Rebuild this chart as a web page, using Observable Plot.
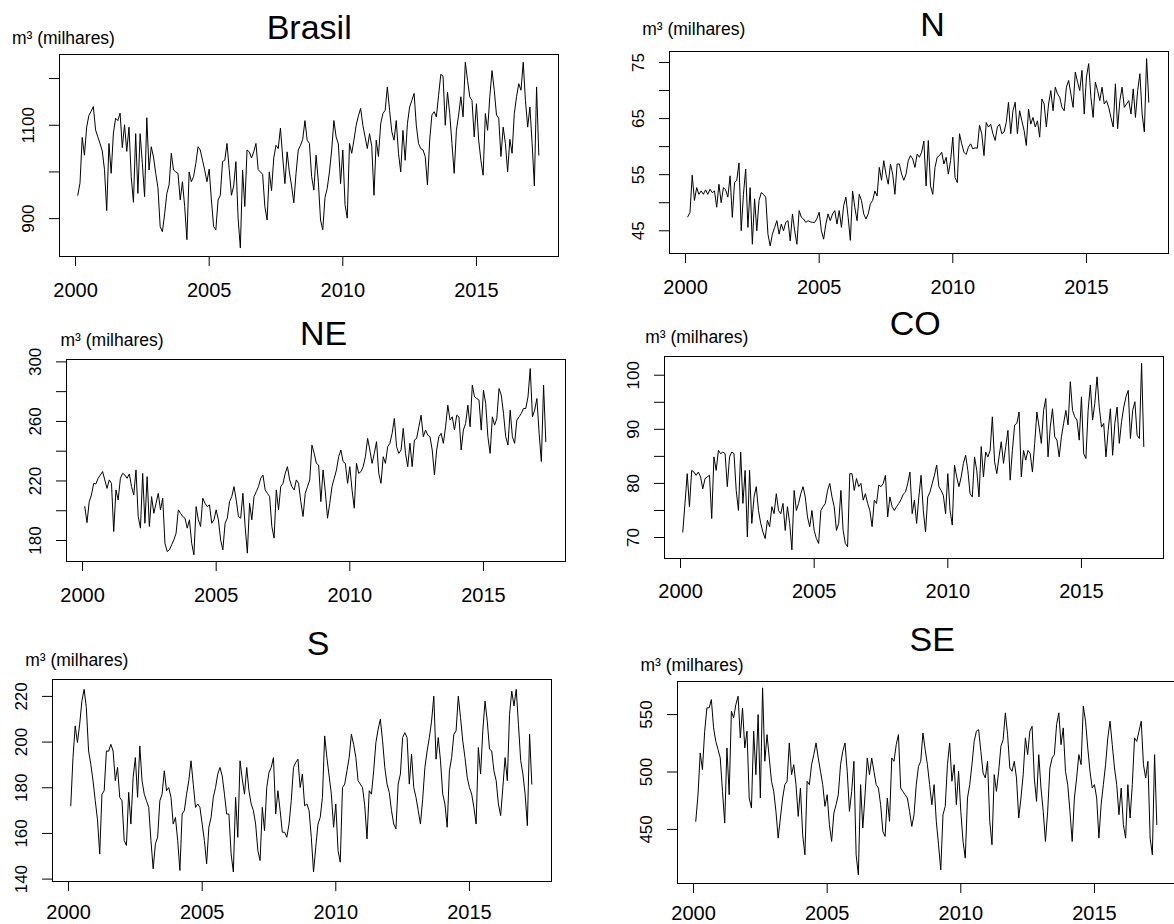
<!DOCTYPE html>
<html><head><meta charset="utf-8">
<script src="https://cdn.jsdelivr.net/npm/d3@7"></script>
<script src="https://cdn.jsdelivr.net/npm/@observablehq/plot@0.6"></script>
<style>
html,body{margin:0;padding:0;background:#fff;overflow:hidden}
#page{position:relative;width:1174px;height:924px;overflow:hidden;background:#fff}
#page > div{position:absolute;width:571px;height:306px}
#page svg{overflow:visible;max-width:none !important;display:block}
</style></head><body><div id="page"></div>
<script>
// Monthly series, Feb 2000 .. May 2017 (m³, milhares)
const xTicks = [2000, 2005, 2010, 2015];
const yLabelText = "m³ (milhares)";

const brasil = [
  950, 976, 1074, 1036, 1096, 1121, 1130, 1140, 1090, 1075, 1061,
  1045, 1005, 917, 1061, 997, 1083, 1115, 1110, 1126, 1052, 1101, 1044,
  1096, 990, 935, 1082, 954, 1082, 1018, 947, 1116, 1004, 1054, 1032,
  997, 966, 883, 872, 910, 954, 972, 1040, 1004, 1000, 997, 940,
  979, 926, 855, 1000, 979, 990, 1018, 1054, 1047, 1025, 1004, 979,
  1006, 940, 883, 876, 940, 950, 1022, 1025, 1061, 1005, 950, 970,
  1022, 900, 837, 1004, 926, 1047, 1043, 1030, 1043, 1061, 1005, 1000,
  995, 926, 897, 1000, 960, 1030, 1057, 1050, 1094, 1032, 975, 1043,
  1000, 970, 934, 997, 1047, 1057, 1070, 1110, 1068, 1061, 990, 961,
  1036, 980, 897, 876, 945, 965, 1000, 1047, 1110, 1075, 1060, 975,
  1047, 930, 901, 1061, 1040, 1068, 1100, 1120, 1136, 1100, 1075, 1050,
  1082, 1055, 950, 1068, 1033, 1103, 1125, 1132, 1182, 1132, 1086, 1068,
  1110, 1040, 1000, 1089, 1025, 1103, 1139, 1153, 1168, 1100, 1061, 1050,
  1047, 1033, 972, 1068, 1122, 1129, 1118, 1164, 1209, 1205, 1100, 1171,
  1125, 1061, 997, 1089, 1122, 1161, 1118, 1235, 1196, 1161, 1153, 1075,
  1146, 1068, 1025, 993, 1125, 1089, 1161, 1217, 1175, 1122, 1115, 1033,
  1096, 1061, 1000, 1070, 1040, 1125, 1161, 1189, 1175, 1235, 1153, 1096,
  1139, 1061, 970, 1182, 1036
];

const norte = [
  47.5, 48.3, 54.9, 50.4, 52.7, 51.5, 52.1, 51.5, 52.3, 51.5, 52.4,
  51.8, 52.1, 49.2, 53.3, 50.0, 52.7, 52.3, 51.0, 54.8, 47.4, 53.6, 54.0,
  57.1, 45.0, 51.5, 56.0, 45.6, 52.7, 42.6, 50.7, 45.0, 50.4, 51.8, 51.5,
  51.0, 44.4, 42.3, 44.4, 45.6, 46.8, 44.4, 46.2, 45.0, 46.5, 46.8, 43.2,
  48.0, 45.0, 42.6, 48.6, 47.4, 47.1, 46.5, 46.8, 46.6, 46.5, 46.5, 47.2,
  48.3, 45.0, 43.5, 46.2, 48.0, 46.8, 48.0, 48.6, 46.2, 48.6, 45.6, 49.5,
  51.0, 47.4, 43.3, 52.1, 49.2, 46.8, 51.5, 50.4, 48.0, 47.1, 48.0, 49.8,
  50.4, 52.1, 51.2, 56.3, 54.0, 57.5, 55.1, 53.3, 56.9, 55.1, 51.5, 56.9,
  56.9, 55.1, 54.0, 55.1, 57.5, 58.4, 57.8, 56.3, 58.7, 58.1, 59.0, 61.0,
  53.0, 61.1, 53.0, 51.5, 56.3, 58.1, 58.4, 59.0, 56.9, 58.1, 55.1, 57.5,
  61.7, 54.5, 53.6, 62.3, 60.5, 59.0, 58.6, 59.9, 60.5, 59.6, 59.8, 59.7,
  63.8, 62.3, 58.4, 64.3, 63.5, 64.0, 62.3, 61.1, 63.5, 64.0, 62.3, 62.6,
  64.3, 67.9, 62.3, 66.4, 67.9, 62.3, 66.4, 64.6, 62.9, 60.2, 66.7, 64.0,
  65.2, 63.5, 64.6, 61.7, 68.5, 67.6, 63.5, 67.6, 70.0, 66.4, 70.6, 69.4,
  68.8, 67.0, 66.4, 70.6, 71.8, 69.4, 67.0, 73.3, 71.5, 70.0, 73.6, 65.8,
  72.4, 74.8, 68.8, 65.2, 71.5, 70.0, 68.2, 70.6, 67.6, 68.2, 67.0, 65.2,
  63.5, 71.2, 63.2, 68.2, 70.6, 67.0, 67.6, 68.2, 65.8, 70.3, 65.2, 70.0,
  73.0, 65.8, 62.6, 75.7, 67.9
];

const nordeste = [
  202.8, 192, 206, 210.6, 218.4, 218, 221.8, 224, 226.3, 220.7, 215,
  220.7, 218.4, 186, 214, 207.3, 221.8, 225.1, 224, 221.8, 224.7, 216.2, 210.6,
  227.4, 196.1, 188.3, 225.1, 191.6, 222.9, 189.4, 209.5, 198.3, 205, 211.7, 200.6,
  208.4, 178.2, 172.6, 173.7, 177.1, 180.4, 184.9, 200.6, 198.3, 196.1, 195, 188.3,
  193.9, 178.2, 170.4, 202.8, 193.9, 189.4, 208.4, 205, 202.8, 203.9, 191.6, 193.9,
  200.6, 193.9, 180.4, 173.7, 191.6, 195, 206.1, 209.5, 216.2, 207.3, 196.1, 195,
  211.7, 189.4, 171.5, 205, 193.9, 209.5, 212.8, 216.2, 221.8, 224, 214, 211.7,
  209.5, 189.4, 181.6, 214, 200.6, 216.2, 218.4, 225.1, 229.6, 220.7, 216.2, 214,
  220.7, 218.4, 206.1, 196.1, 211.7, 216.2, 220.7, 244.1, 238.5, 231.8, 230.7, 206.1,
  227.4, 212.8, 195, 205, 216.2, 221.8, 227.4, 236.3, 240.8, 233, 231.8, 218.4,
  229.6, 214, 201.7, 231.8, 225.1, 226.3, 229.6, 236.3, 248.6, 240.8, 231.8, 238.5,
  246.4, 225.1, 218.4, 236.3, 231.8, 243, 245.3, 252, 262, 243, 238.5, 240.8,
  255.3, 238.5, 229.6, 245.3, 229.6, 247.5, 248.6, 256.4, 264.2, 249.7, 254.2, 250.8,
  249.7, 240.8, 224, 240.8, 249.7, 252, 245.3, 256.4, 270.9, 260.9, 263.1, 254.2,
  264.2, 263.1, 240.8, 254.2, 258.7, 270.9, 256.4, 284.4, 276.5, 275.4, 274.3, 254.2,
  281, 272.1, 249.7, 238.5, 263.1, 257.5, 262, 282.1, 277.7, 265.4, 249.7, 244.1,
  267.6, 249.7, 245.3, 260.9, 263.1, 265.4, 268.7, 268.7, 276.5, 295.5, 263.1, 267.6,
  275.4, 252, 233, 284.4, 246.4
];

const centroOeste = [
  71.0, 76.3, 81.8, 75.7, 82.4, 82.1, 81.5, 82.1, 81.2, 79.0, 80.9,
  81.2, 81.5, 73.5, 84.9, 82.4, 86.1, 85.5, 85.8, 85.5, 79.4, 84.9, 85.8,
  85.5, 78.7, 75.0, 85.8, 76.3, 82.4, 70.1, 82.4, 72.6, 77.5, 79.4, 75.0,
  72.6, 71.0, 69.8, 73.2, 72.0, 75.7, 74.4, 78.1, 75.0, 74.4, 76.3, 71.3,
  75.7, 72.6, 67.7, 78.7, 75.0, 76.3, 78.1, 79.4, 77.5, 73.8, 72.0, 75.0,
  71.3, 69.8, 68.9, 75.0, 75.7, 76.3, 78.7, 80.0, 77.5, 75.7, 71.3, 72.6,
  78.7, 71.3, 68.9, 68.3, 81.8, 81.8, 78.7, 80.9, 79.4, 80.0, 76.9, 78.1,
  76.3, 75.0, 72.0, 76.9, 76.3, 79.7, 79.4, 80.0, 81.5, 73.8, 77.5, 75.7,
  75.0, 75.7, 76.3, 77.0, 78.0, 78.4, 80.0, 82.1, 74.4, 76.9, 72.6, 77.5,
  81.5, 75.0, 71.0, 77.5, 78.4, 80.0, 81.5, 83.4, 79.4, 78.7, 77.8, 74.4,
  81.8, 75.0, 72.3, 83.4, 81.2, 79.4, 81.2, 83.7, 85.2, 82.4, 78.1, 77.5,
  84.9, 82.4, 77.5, 86.8, 81.2, 85.8, 84.9, 86.1, 92.3, 84.0, 81.8, 84.9,
  87.7, 83.7, 86.8, 89.8, 80.6, 86.1, 90.8, 91.1, 93.2, 81.2, 86.1, 84.3,
  86.1, 85.5, 82.1, 87.4, 93.2, 90.4, 87.4, 93.5, 95.7, 84.9, 90.4, 93.8,
  88.6, 88.0, 84.9, 88.6, 91.1, 93.5, 90.8, 98.8, 93.5, 92.3, 91.7, 88.0,
  96.0, 85.5, 84.6, 93.5, 98.2, 91.7, 94.8, 99.7, 94.1, 90.4, 91.1, 84.9,
  89.8, 93.8, 85.2, 91.1, 94.1, 87.4, 91.4, 94.1, 96.0, 97.2, 88.3, 93.5,
  95.1, 88.9, 88.3, 102.2, 86.8
];

const sul = [
  172.1, 193.2, 207.1, 199.8, 207.8, 218, 223.1, 215, 196.1, 190.3, 183,
  174.3, 166, 151, 177.2, 178.7, 196.1, 196, 199, 196.1, 183.1, 188.9, 175.8,
  174.3, 156.9, 154.7, 178, 164.1, 184.5, 193.2, 175.8, 198.3, 183.1, 177.2, 174.3,
  171.4, 156.9, 144.5, 155.4, 158.3, 174.3, 177.2, 187.4, 178.7, 180.1, 175.8, 164.1,
  167, 156.9, 143.8, 168.5, 170, 177.2, 183.1, 191.8, 181.6, 171.4, 172.9, 171.4,
  164.1, 156.9, 146.7, 162.7, 167, 175.8, 180.1, 186, 188.9, 185.2, 177.2, 168.5,
  168.5, 151, 143.1, 175.8, 158.3, 191.8, 183.8, 177.2, 188.9, 178.7, 172.9, 170,
  164.1, 152.5, 148.1, 171.4, 161.2, 180.1, 186.7, 188.9, 193.2, 168.5, 178.7, 170,
  160.5, 160.5, 158.3, 164.1, 174.3, 188.9, 191.1, 192.5, 180.1, 186, 172.1, 172.9,
  170, 158.3, 143.1, 154, 164.1, 167, 175.8, 202.7, 193.2, 185.2, 177.2, 162.7,
  172.9, 152.5, 147.4, 180.1, 181.6, 187.4, 193.2, 203.4, 199, 193.2, 183.1, 181.6,
  180.1, 172.1, 157.6, 178.7, 177.2, 187.4, 199.8, 205.6, 210, 200.5, 188.9, 181.6,
  178, 170, 164.1, 162, 181.6, 186, 202, 204.1, 202, 181.6, 194.7, 180.1,
  175.8, 170, 164.1, 175, 188.9, 196.1, 202, 209.2, 220.1, 192.5, 202, 191.8,
  177.2, 172.9, 162.7, 187.4, 193.2, 203.4, 204.9, 220.1, 210.7, 200.5, 193.2, 184.5,
  180.1, 177.2, 171.4, 164.1, 197.6, 186, 204.9, 218, 209.2, 196.9, 196.1, 187.4,
  183.1, 172.9, 167.8, 180.1, 193.2, 183.1, 212.1, 222.3, 215.8, 223.1, 207.8, 192,
  186, 177.2, 163.4, 203.4, 181.6
];

const sudeste = [
  457, 480, 516.6, 502, 535.5, 555.8, 555.8, 563.1, 538.4, 526.7, 519.5,
  512.2, 483.1, 455.5, 520.9, 480.2, 552.9, 547.1, 558.7, 566, 529.7, 555.8, 520.9,
  535.5, 477.3, 468.6, 535.5, 497.7, 550, 477.3, 573.3, 509.3, 532.6, 512.2, 491.9,
  483.1, 465.7, 442.4, 459.9, 477.3, 489, 491.9, 525.3, 497.7, 506.4, 489, 461.3,
  486, 445.3, 427.9, 491.9, 489, 506.4, 515.1, 525.3, 512.2, 500.6, 489, 470.1,
  480.2, 454.1, 439.5, 464.2, 471.5, 480.2, 506.4, 518, 525.3, 500.6, 465.7, 483.1,
  509.3, 427.9, 410.5, 489, 451.2, 480.2, 512.2, 497.7, 512.2, 500.6, 489, 486,
  471.5, 448.3, 443.9, 477.3, 457, 512.2, 509.3, 523.8, 532.6, 486, 483.1, 480.2,
  477.3, 465.7, 452.6, 462.8, 489, 504.9, 509.3, 534, 519.5, 506.4, 489, 471.5,
  489, 457, 436.6, 414.8, 462.8, 470.1, 506.4, 525.3, 491.9, 506.4, 471.5, 500.6,
  465.7, 439.5, 425, 477.3, 489, 506.4, 526.7, 535.5, 536.9, 518, 499.1, 494.8,
  509.3, 457, 436.6, 497.7, 483.1, 500.6, 522.4, 528.2, 551.5, 532.6, 503.5, 500.6,
  509.3, 494.8, 459.9, 477.3, 497.7, 529.7, 515.1, 535.5, 539.8, 494.8, 474.4, 515.1,
  486, 465.7, 439.5, 465.7, 503.5, 512.2, 515.1, 541.3, 551.5, 523.8, 538.4, 500.6,
  489, 465.7, 439.5, 477.3, 494.8, 515.1, 506.4, 557.3, 544.2, 520.9, 500.6, 486,
  489, 477.3, 442.4, 471.5, 489, 506.4, 529.7, 544.2, 523.8, 503.5, 489, 462.8,
  486, 454.1, 442.4, 489, 459.9, 489, 529.7, 526.7, 535.5, 544.2, 506.4, 494.8,
  509.3, 442.4, 427.9, 515.1, 454.1
];

const panels = [
  {title: "Brasil", values: brasil, yTicks: [900, 1000, 1100, 1200], yLabels: [900, 1100],
   yDomain: [818.9, 1251.5], L: 59.3, T: 54, titleX: 309, titleBase: 38, labX: 11.7, labBase: 43.3, xDy: 40},
  {title: "N", values: norte, yTicks: [45, 50, 55, 60, 65, 70, 75], yLabels: [45, 55, 65, 75],
   yDomain: [40.95, 76.96], L: 669, T: 51, titleX: 932, titleBase: 35, labX: 641.7, labBase: 34.5, xDy: 40},
  {title: "NE", values: nordeste, yTicks: [180, 200, 220, 240, 260, 280, 300], yLabels: [180, 220, 260, 300],
   yDomain: [165.9, 301.6], L: 66, T: 359.3, titleX: 323, titleBase: 345, labX: 60, labBase: 346, xDy: 40},
  {title: "CO", values: centroOeste, yTicks: [70, 75, 80, 85, 90, 95, 100], yLabels: [70, 80, 90, 100],
   yDomain: [66.12, 103.46], L: 664.3, T: 356.3, titleX: 915, titleBase: 335, labX: 645, labBase: 342.7, xDy: 39.5},
  {title: "S", values: sul, yTicks: [140, 160, 180, 200, 220], yLabels: [140, 160, 180, 200, 220],
   yDomain: [138.95, 227.4], L: 52.3, T: 679, titleX: 318, titleBase: 654.5, labX: 25, labBase: 665.7, xDy: 37.5},
  {title: "SE", values: sudeste, yTicks: [450, 500, 550], yLabels: [450, 500, 550],
   yDomain: [402.9, 578.8], L: 677, T: 681, titleX: 931.7, titleBase: 650.7, labX: 640, labBase: 670.7, xDy: 36.5}
];

const FONT = "'Liberation Sans', Arial, Helvetica, sans-serif";
const W = 499, H = 202, ML = 60, MT = 54, MR = 12, MB = 50;
const page = document.getElementById("page");

function draw(p) {
  const data = p.values.map((v, i) => ({t: 2000 + (i + 1) / 12, v}));
  const chart = Plot.plot({
    width: ML + W + MR, height: MT + H + MB,
    marginLeft: ML, marginTop: MT, marginRight: MR, marginBottom: MB,
    x: {domain: [1999.40, 2018.07], label: null},
    y: {domain: p.yDomain, label: null},
    style: {fontFamily: FONT, background: "transparent", color: "#000", overflow: "visible", maxWidth: "none"},
    marks: [
      Plot.frame({stroke: "#000", strokeWidth: 1}),
      Plot.axisX(xTicks, {tickSize: 10, tickFormat: () => "", label: null, stroke: "#000"}),
      Plot.axisY(p.yTicks, {tickSize: 10, tickFormat: () => "", label: null, stroke: "#000"}),
      Plot.text(xTicks, {x: d => d, text: d => String(d), frameAnchor: "bottom", dy: p.xDy,
        lineAnchor: "bottom", fontSize: 20, fill: "#000"}),
      Plot.text(p.yLabels, {y: d => d, text: d => String(d), frameAnchor: "left", dx: -25.5,
        rotate: -90, lineAnchor: "bottom", textAnchor: "middle", fontSize: 17, fill: "#000"}),
      Plot.line(data, {x: "t", y: "v", stroke: "#000", strokeWidth: 1}),
      Plot.text([p.title], {text: d => d, frameAnchor: "top-left", dx: p.titleX - p.L, dy: p.titleBase - p.T,
        lineAnchor: "bottom", textAnchor: "middle", fontSize: 34, fill: "#000"}),
      Plot.text([yLabelText], {text: d => d, frameAnchor: "top-left", dx: p.labX - p.L, dy: p.labBase - p.T,
        lineAnchor: "bottom", textAnchor: "start", fontSize: 17.5, fill: "#000"})
    ]
  });
  const wrap = document.createElement("div");
  wrap.style.left = (p.L - ML) + "px";
  wrap.style.top = (p.T - MT) + "px";
  wrap.appendChild(chart);
  page.appendChild(wrap);
}
panels.forEach(draw);
</script>
</body></html>
